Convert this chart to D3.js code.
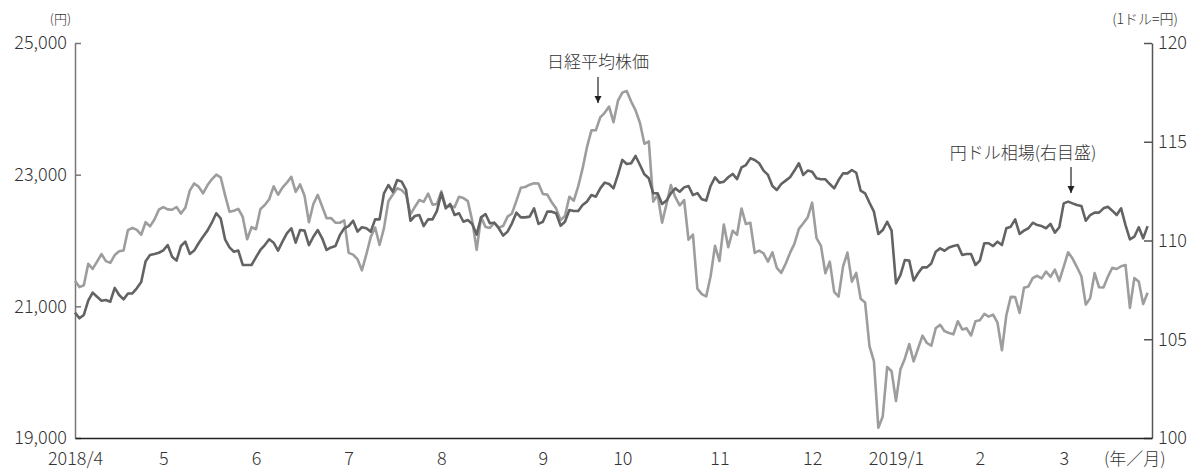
<!DOCTYPE html>
<html><head><meta charset="utf-8">
<script src="https://cdn.jsdelivr.net/npm/d3@7"></script>
<style>
html,body{margin:0;padding:0;background:#fff;}
svg{display:block;font-family:"Noto Sans CJK JP","Noto Sans",sans-serif;font-weight:300;}
</style></head>
<body>
<svg id="chart" width="1193" height="469"></svg>
<script>
// Month labels placed at the first trading day of each month (index into the daily series)
const monthLabels = ["2018/4","5","6","7","8","9","10","11","12","2019/1","2","3"];
const monthStart  = [0,20,41,62,83,106,124,146,167,186,205,224];
const leftTicks  = [19000,21000,23000,25000];
const rightTicks = [100,105,110,115,120];

// 日経平均株価 (円), daily closes 2018/4/2 – 2019/3/29
const nikkei = [
21388,21292,21320,21645,21568,21678,21794,21687,21660,21779,21836,21848,22158,22191,22162,22088,22278,22215,22320,22468,
22508,22473,22467,22509,22409,22497,22758,22866,22818,22717,22838,22930,23002,22960,22690,22437,22451,22481,22358,22019,22202,
22171,22476,22540,22626,22823,22695,22804,22878,22966,22739,22852,22680,22278,22555,22693,22517,22338,22342,22272,22270,22305,
21812,21786,21717,21547,21788,22052,22197,21932,22188,22597,22698,22794,22765,22697,22397,22510,22614,22587,22713,22545,22554,
22747,22513,22525,22507,22663,22644,22598,22298,21857,22356,22204,22192,22270,22199,22220,22363,22411,22602,22800,22813,22848,22870,22865,
22707,22697,22581,22488,22307,22373,22665,22605,22821,23095,23421,23673,23675,23870,23940,24034,23797,24120,
24246,24271,24111,23976,23784,23469,23506,22591,22695,22271,22549,22841,22658,22532,22615,22011,22091,21269,21185,21150,21457,21920,
21688,22244,21899,22148,22086,22487,22250,22270,21811,21846,21804,21680,21821,21583,21508,21647,21812,21952,22177,22263,22351,
22575,22036,21919,21502,21679,21220,21148,21603,21816,21375,21507,21115,21060,20393,20166,19156,19327,20078,20015,
19562,20039,20204,20427,20164,20360,20555,20443,20402,20666,20719,20623,20594,20575,20774,20649,20665,20557,20773,
20788,20884,20844,20874,20751,20333,20864,21144,21140,20901,21282,21303,21431,21464,21425,21528,21449,21557,21385,
21603,21822,21726,21597,21456,21026,21125,21504,21290,21287,21451,21585,21567,21609,21627,20977,21428,21378,21034,21206
];

// 円ドル相場 (1ドル=円), same days
const usdjpy = [
106.35,106.06,106.23,106.95,107.36,107.15,106.95,106.99,106.90,107.60,107.24,107.02,107.32,107.32,107.58,107.90,108.95,109.27,109.32,109.38,
109.50,109.77,109.18,108.98,109.72,109.94,109.32,109.49,109.86,110.19,110.50,110.90,111.38,111.12,110.06,109.65,109.43,109.49,108.76,108.76,108.76,
109.15,109.52,109.77,110.06,109.89,109.49,109.94,110.36,110.62,109.89,110.53,110.50,109.77,110.19,110.53,110.11,109.52,109.65,109.72,110.27,110.62,
110.73,111.00,110.45,110.67,110.62,110.45,111.07,111.07,112.39,112.81,112.47,113.06,112.98,112.56,111.00,111.24,111.29,110.73,111.07,111.07,111.50,
112.40,111.63,111.85,111.29,111.38,110.95,111.04,110.84,110.30,111.17,111.34,110.87,110.90,110.62,110.25,110.45,110.87,111.41,111.17,111.17,111.21,111.63,110.84,
110.95,111.46,111.46,111.38,110.75,110.95,111.54,111.49,111.49,111.80,111.97,112.30,112.22,112.64,112.93,112.86,112.64,113.32,
114.08,113.87,113.91,114.28,113.82,113.35,113.15,112.39,112.39,111.85,112.02,112.39,112.64,112.47,112.69,112.76,112.30,112.40,112.09,112.02,112.76,113.20,
112.93,112.98,113.20,113.37,113.11,113.70,113.82,114.16,114.08,113.91,113.54,113.32,112.76,112.56,112.86,113.03,113.20,113.54,113.91,113.32,113.54,
113.48,113.15,113.10,113.10,112.86,112.64,113.06,113.40,113.40,113.57,113.43,112.52,112.39,111.91,111.46,110.33,110.53,110.95,110.50,
107.83,108.25,109.01,108.98,107.97,108.34,108.64,108.64,108.84,109.43,109.60,109.48,109.65,109.72,109.77,109.27,109.32,109.32,108.76,
108.98,109.86,109.86,109.72,109.94,109.77,110.62,110.70,111.07,110.33,110.50,110.62,110.90,110.78,110.73,110.62,110.84,110.40,110.67,
111.88,111.97,111.88,111.80,111.75,111.00,111.29,111.41,111.41,111.63,111.71,111.51,111.29,111.63,110.78,110.06,110.19,110.67,110.11,110.73
];

const svg = d3.select("#chart");
const L = 75, R = 1152, T = 43, B = 438;
const x  = d3.scaleLinear().domain([0, 244]).range([L, R]);
const yL = d3.scaleLinear().domain([19000, 25000]).range([B, T]);
const yR = d3.scaleLinear().domain([100, 120]).range([B, T]);
const textColor = "#333";
const FF = "'Noto Sans CJK JP', 'Noto Sans', sans-serif";

// left axis
const gL = svg.append("g").attr("transform", `translate(${L},0)`)
  .call(d3.axisLeft(yL).tickValues(leftTicks).tickSizeInner(-6).tickSizeOuter(0).tickPadding(8)
    .tickFormat(d3.format(",")));
gL.select(".domain").attr("stroke", "#777").attr("stroke-width", 1.5);
gL.selectAll(".tick line").attr("stroke", "#777").attr("stroke-width", 1.5);
gL.selectAll("text").attr("font-size", 18).attr("fill", textColor).attr("font-family", FF).attr("font-weight", 300);

// right axis
const gR = svg.append("g").attr("transform", `translate(${R},0)`)
  .call(d3.axisRight(yR).tickValues(rightTicks).tickSizeInner(-8).tickSizeOuter(0).tickPadding(6));
gR.select(".domain").attr("stroke", "#555").attr("stroke-width", 1.5);
gR.selectAll(".tick line").attr("stroke", "#555").attr("stroke-width", 1.5);
gR.selectAll("text").attr("font-size", 18).attr("fill", textColor).attr("font-family", FF).attr("font-weight", 300);

// bottom axis
const gB = svg.append("g").attr("transform", `translate(0,${B})`)
  .call(d3.axisBottom(x).tickValues(monthStart).tickSize(0).tickPadding(14)
    .tickFormat((d, i) => monthLabels[i]));
gB.select(".domain").attr("stroke", "#222").attr("stroke-width", 1.5);
gB.selectAll("text").attr("font-size", 18).attr("fill", textColor).attr("font-family", FF).attr("font-weight", 300);

// series
const lineL = d3.line().x((d, i) => x(i)).y(d => yL(d));
const lineR = d3.line().x((d, i) => x(i)).y(d => yR(d));
svg.append("path").datum(nikkei).attr("d", lineL)
  .attr("fill", "none").attr("stroke", "#9d9d9d").attr("stroke-width", 2.6).attr("stroke-linejoin", "round");
svg.append("path").datum(usdjpy).attr("d", lineR)
  .attr("fill", "none").attr("stroke", "#636363").attr("stroke-width", 2.6).attr("stroke-linejoin", "round");

// unit labels
svg.append("text").attr("x", 71).attr("y", 24).attr("text-anchor", "end")
  .attr("font-size", 13).attr("fill", textColor).text("(円)");
svg.append("text").attr("x", 1178).attr("y", 24).attr("text-anchor", "end")
  .attr("font-size", 14).attr("fill", textColor).text("(1ドル=円)");
svg.append("text").attr("x", 1104).attr("y", 465)
  .attr("font-size", 17).attr("fill", textColor).text("(年／月)");

// annotations
svg.append("defs").append("marker").attr("id", "ah").attr("viewBox", "0 0 10 10")
  .attr("refX", 10).attr("refY", 5).attr("markerWidth", 7).attr("markerHeight", 8)
  .attr("markerUnits", "userSpaceOnUse").attr("orient", "auto")
  .append("path").attr("d", "M0,0 L10,5 L0,10 Z").attr("fill", "#222");

function annot(label, tx, ty, ax, y1, y2) {
  svg.append("text").attr("x", tx).attr("y", ty).attr("text-anchor", "middle")
    .attr("font-size", 17).attr("fill", textColor).text(label);
  svg.append("line").attr("x1", ax).attr("x2", ax).attr("y1", y1).attr("y2", y2)
    .attr("stroke", "#222").attr("stroke-width", 1.2).attr("marker-end", "url(#ah)");
}
annot("日経平均株価", 598, 68, 598, 77, 103);
annot("円ドル相場(右目盛)", 1023, 159, 1071, 167, 193);
</script>
</body></html>
